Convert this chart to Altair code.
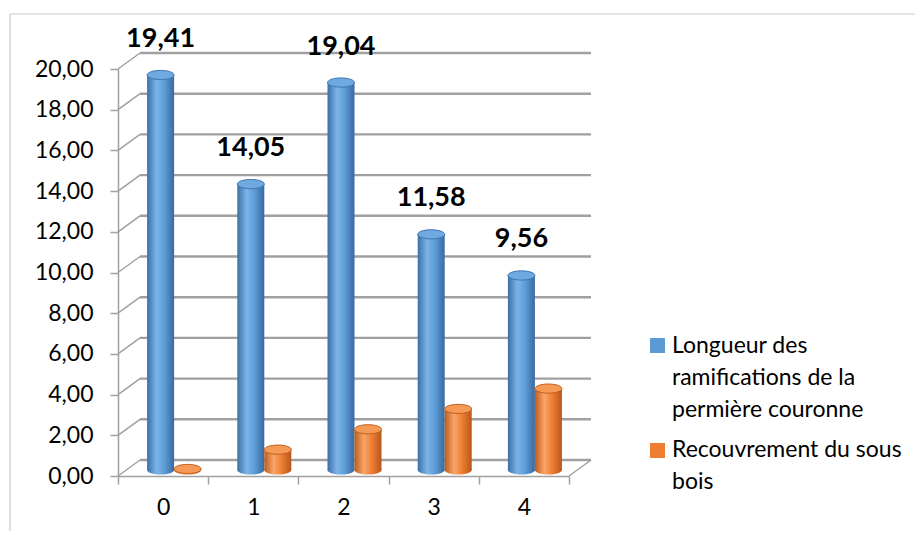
import altair as alt
import pandas as pd

# ---- data ----
categories = ["0", "1", "2", "3", "4"]
longueur = [19.41, 14.05, 19.04, 11.58, 9.56]
recouvrement = [0.05, 1.00, 2.00, 3.00, 4.00]
y_ticks = [0, 2, 4, 6, 8, 10, 12, 14, 16, 18, 20]
legend_blue = ["Longueur des", "ramifications de la", "permière couronne"]
legend_orange = ["Recouvrement du sous", "bois"]

df = pd.DataFrame({"cat": categories, "longueur": longueur, "recouvrement": recouvrement})
ticks_df = pd.DataFrame({"t": y_ticks})
one = pd.DataFrame({"k": [0]})

W, H = 451, 407
DX, DY = 22, -16          # depth of the 3D box
BY = -6                   # bars sit mid-depth
GRID = "#a0a0a0"
FONT = "Lato"
ELLIPSE = "M-1,0A1,0.34,0,1,1,1,0A1,0.34,0,1,1,-1,0Z"
BAR_W = 27
OFF_B, OFF_O = -2.5, 24.5

yscale = alt.Scale(domain=[0, 20], nice=False)
xscale = alt.Scale(paddingInner=0, paddingOuter=0)

def lbl_expr(v):
    return f"replace(format({v},'.2f'),'.',',')"

grad_blue = alt.Gradient(gradient="linear", x1=0, x2=1, y1=0, y2=0, stops=[
    alt.GradientStop(color="#3a6ea8", offset=0),
    alt.GradientStop(color="#7db4e8", offset=0.35),
    alt.GradientStop(color="#5b9bd5", offset=0.65),
    alt.GradientStop(color="#386aa2", offset=1)])
grad_orange = alt.Gradient(gradient="linear", x1=0, x2=1, y1=0, y2=0, stops=[
    alt.GradientStop(color="#bd5c1b", offset=0),
    alt.GradientStop(color="#f9a668", offset=0.35),
    alt.GradientStop(color="#ed7d31", offset=0.65),
    alt.GradientStop(color="#b5571a", offset=1)])

base = alt.Chart(df)

# outer frame (top and left border of the chart area)
frame_top = alt.Chart(one).mark_rule(color="#c8c8c8", strokeWidth=1.2).encode(
    x=alt.value(-108), x2=alt.value(W + 400), y=alt.value(-55))
frame_left = alt.Chart(one).mark_rule(color="#c8c8c8", strokeWidth=1.2).encode(
    x=alt.value(-108), y=alt.value(-55), y2=alt.value(H + 80))

# back wall gridlines
back_grid = alt.Chart(ticks_df).mark_rule(color=GRID, strokeWidth=2.4, yOffset=DY).encode(
    y=alt.Y("t:Q", scale=yscale, axis=None), x=alt.value(DX), x2=alt.value(W + DX))
# left wall diagonals
side_grid = alt.Chart(ticks_df).mark_rule(color=GRID, strokeWidth=1.5, y2Offset=DY).encode(
    y=alt.Y("t:Q", scale=yscale, axis=None), y2="t:Q", x=alt.value(0), x2=alt.value(DX))
# floor right edge
floor_right = alt.Chart(one).mark_rule(color=GRID, strokeWidth=1.5).encode(
    x=alt.value(W), x2=alt.value(W + DX), y=alt.value(H), y2=alt.value(H + DY))

x_axis = alt.Axis(title=None, orient="bottom", labelAngle=0, tickBand="extent", tickSize=8,
                  tickColor=GRID, tickWidth=1.5, domainColor=GRID, domainWidth=1.5,
                  labelFont=FONT, labelFontSize=23, labelColor="#000000", labelPadding=12,
                  grid=False)
y_axis = alt.Axis(title=None, orient="left", values=y_ticks, grid=False, tickSize=8,
                  tickColor=GRID, tickWidth=1.5, domainColor=GRID, domainWidth=1.5,
                  labelFont=FONT, labelFontSize=23, labelColor="#000000", labelPadding=17,
                  labelExpr=lbl_expr("datum.value"))

def xcat(axis=None):
    return alt.X("cat:N", scale=xscale, axis=axis, sort=categories)

def cylinder(field, grad, cap_fill, cap_stroke, xoff, with_axes=False):
    yenc = alt.Y(f"{field}:Q", scale=yscale, axis=y_axis if with_axes else None)
    bottom = base.mark_point(shape=ELLIPSE, size=BAR_W ** 2, filled=True, fill=grad,
                             opacity=1, strokeWidth=0, xOffset=xoff, yOffset=BY).encode(
        x=xcat(), y=alt.Y(datum=0, scale=yscale, axis=None))
    bar = base.mark_bar(width=BAR_W, fill=grad, xOffset=xoff, yOffset=BY, y2Offset=BY).encode(
        x=xcat(x_axis if with_axes else None), y=yenc, y2=alt.Y2(datum=0))
    top = base.mark_point(shape=ELLIPSE, size=BAR_W ** 2, filled=True, fill=cap_fill,
                          stroke=cap_stroke, strokeWidth=1, opacity=1,
                          xOffset=xoff, yOffset=BY).encode(
        x=xcat(), y=alt.Y(f"{field}:Q", scale=yscale, axis=None))
    return [bottom, bar, top]

blue = cylinder("longueur", grad_blue, "#6fa9e0", "#3f75b0", OFF_B, with_axes=True)
orange = cylinder("recouvrement", grad_orange, "#f49a56", "#c2611f", OFF_O)

labels = base.transform_calculate(lbl=lbl_expr("datum.longueur")).mark_text(
    font=FONT, fontSize=27, fontWeight="bold", color="#000000", baseline="alphabetic",
    align="center", xOffset=OFF_B, yOffset=BY - 28).encode(
    x=xcat(), y=alt.Y("longueur:Q", scale=yscale, axis=None), text="lbl:N")

# legend (right side)
leg_sq1 = alt.Chart(one).mark_square(size=225, filled=True, color="#5b9bd5", opacity=1).encode(
    x=alt.value(539.5), y=alt.value(276.5))
leg_tx1 = alt.Chart(one).mark_text(font=FONT, fontSize=23, align="left", baseline="alphabetic",
                                   lineBreak="\n", lineHeight=32, color="#000000").encode(
    x=alt.value(554), y=alt.value(284), text=alt.value("\n".join(legend_blue)))
leg_sq2 = alt.Chart(one).mark_square(size=225, filled=True, color="#ed7d31", opacity=1).encode(
    x=alt.value(539.5), y=alt.value(381.5))
leg_tx2 = alt.Chart(one).mark_text(font=FONT, fontSize=23, align="left", baseline="alphabetic",
                                   lineBreak="\n", lineHeight=32, color="#000000").encode(
    x=alt.value(554), y=alt.value(388), text=alt.value("\n".join(legend_orange)))

chart = alt.layer(
    frame_top, frame_left, back_grid, side_grid, floor_right,
    *blue, *orange, labels,
    leg_sq1, leg_tx1, leg_sq2, leg_tx2,
).resolve_axis(
    x="independent", y="independent"
).properties(
    width=W, height=H,
    padding={"left": 110, "top": 61, "right": 346, "bottom": 55},
    autosize=alt.AutoSizeParams(type="none"),
    background="#ffffff",
).configure_view(stroke=None)

chart.save("out.html", embed_options={"renderer": "svg", "actions": False})
